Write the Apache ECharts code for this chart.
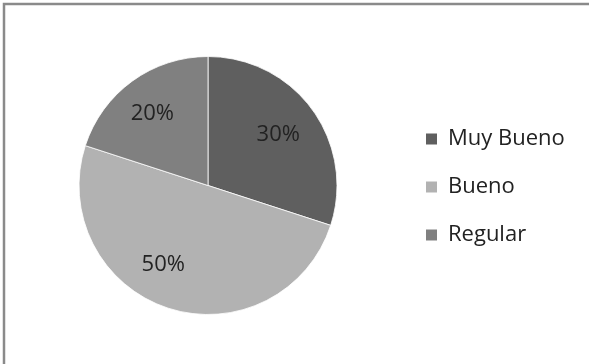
<!DOCTYPE html>
<html>
<head>
<meta charset="utf-8">
<script src="https://cdn.jsdelivr.net/npm/echarts@6/dist/echarts.min.js"></script>
<style>
html,body{margin:0;padding:0;background:#fff;}
#chart{width:589px;height:364px;}
</style>
</head>
<body>
<div id="chart"></div>
<script>
const categories = ['Muy Bueno', 'Bueno', 'Regular'];
const values = [30, 50, 20];
const colors = ['#5f5f5f', '#b2b2b2', '#808080'];

const FONT = '"Open Sans"';
const chart = echarts.init(document.getElementById('chart'), null, {renderer: 'canvas'});
const pieData = categories.map((c, i) => ({name: c, value: values[i], itemStyle: {color: colors[i]}}));
// small label nudges to mimic the original label placement
const labelNudge = [[-5, 4], [-16, -9], [-1, 3]];

chart.setOption({
  animation: false,
  backgroundColor: '#ffffff',
  graphic: [{
    type: 'rect',
    shape: {x: 4, y: 4, width: 800, height: 600},
    style: {fill: 'none', stroke: '#8a8a8a', lineWidth: 2.5},
    silent: true
  }],
  legend: {
    orient: 'vertical',
    left: 424,
    top: 128,
    padding: 0,
    icon: 'rect',
    itemWidth: 13,
    itemHeight: 13,
    itemGap: 26,
    data: categories,
    textStyle: {fontFamily: FONT, fontSize: 22, color: '#222', lineHeight: 22, padding: [0, 0, 0, 5]}
  },
  series: [{
    type: 'pie',
    center: [208, 185.5],
    radius: [0, 129],
    startAngle: 90,
    clockwise: true,
    silent: true,
    label: {show: false},
    labelLine: {show: false},
    itemStyle: {borderColor: '#ffffff', borderWidth: 0.8},
    data: pieData
  }, {
    type: 'pie',
    center: [208, 185.5],
    radius: [51, 129],
    startAngle: 90,
    clockwise: true,
    silent: true,
    legendHoverLink: false,
    itemStyle: {color: 'rgba(0,0,0,0)', borderWidth: 0},
    label: {
      show: true,
      position: 'inside',
      formatter: p => p.value + '%',
      fontFamily: FONT,
      fontSize: 22,
      color: '#222'
    },
    labelLine: {show: false},
    data: categories.map((c, i) => ({name: c + ' ', value: values[i], label: {offset: labelNudge[i]}}))
  }]
});
</script>
</body>
</html>
